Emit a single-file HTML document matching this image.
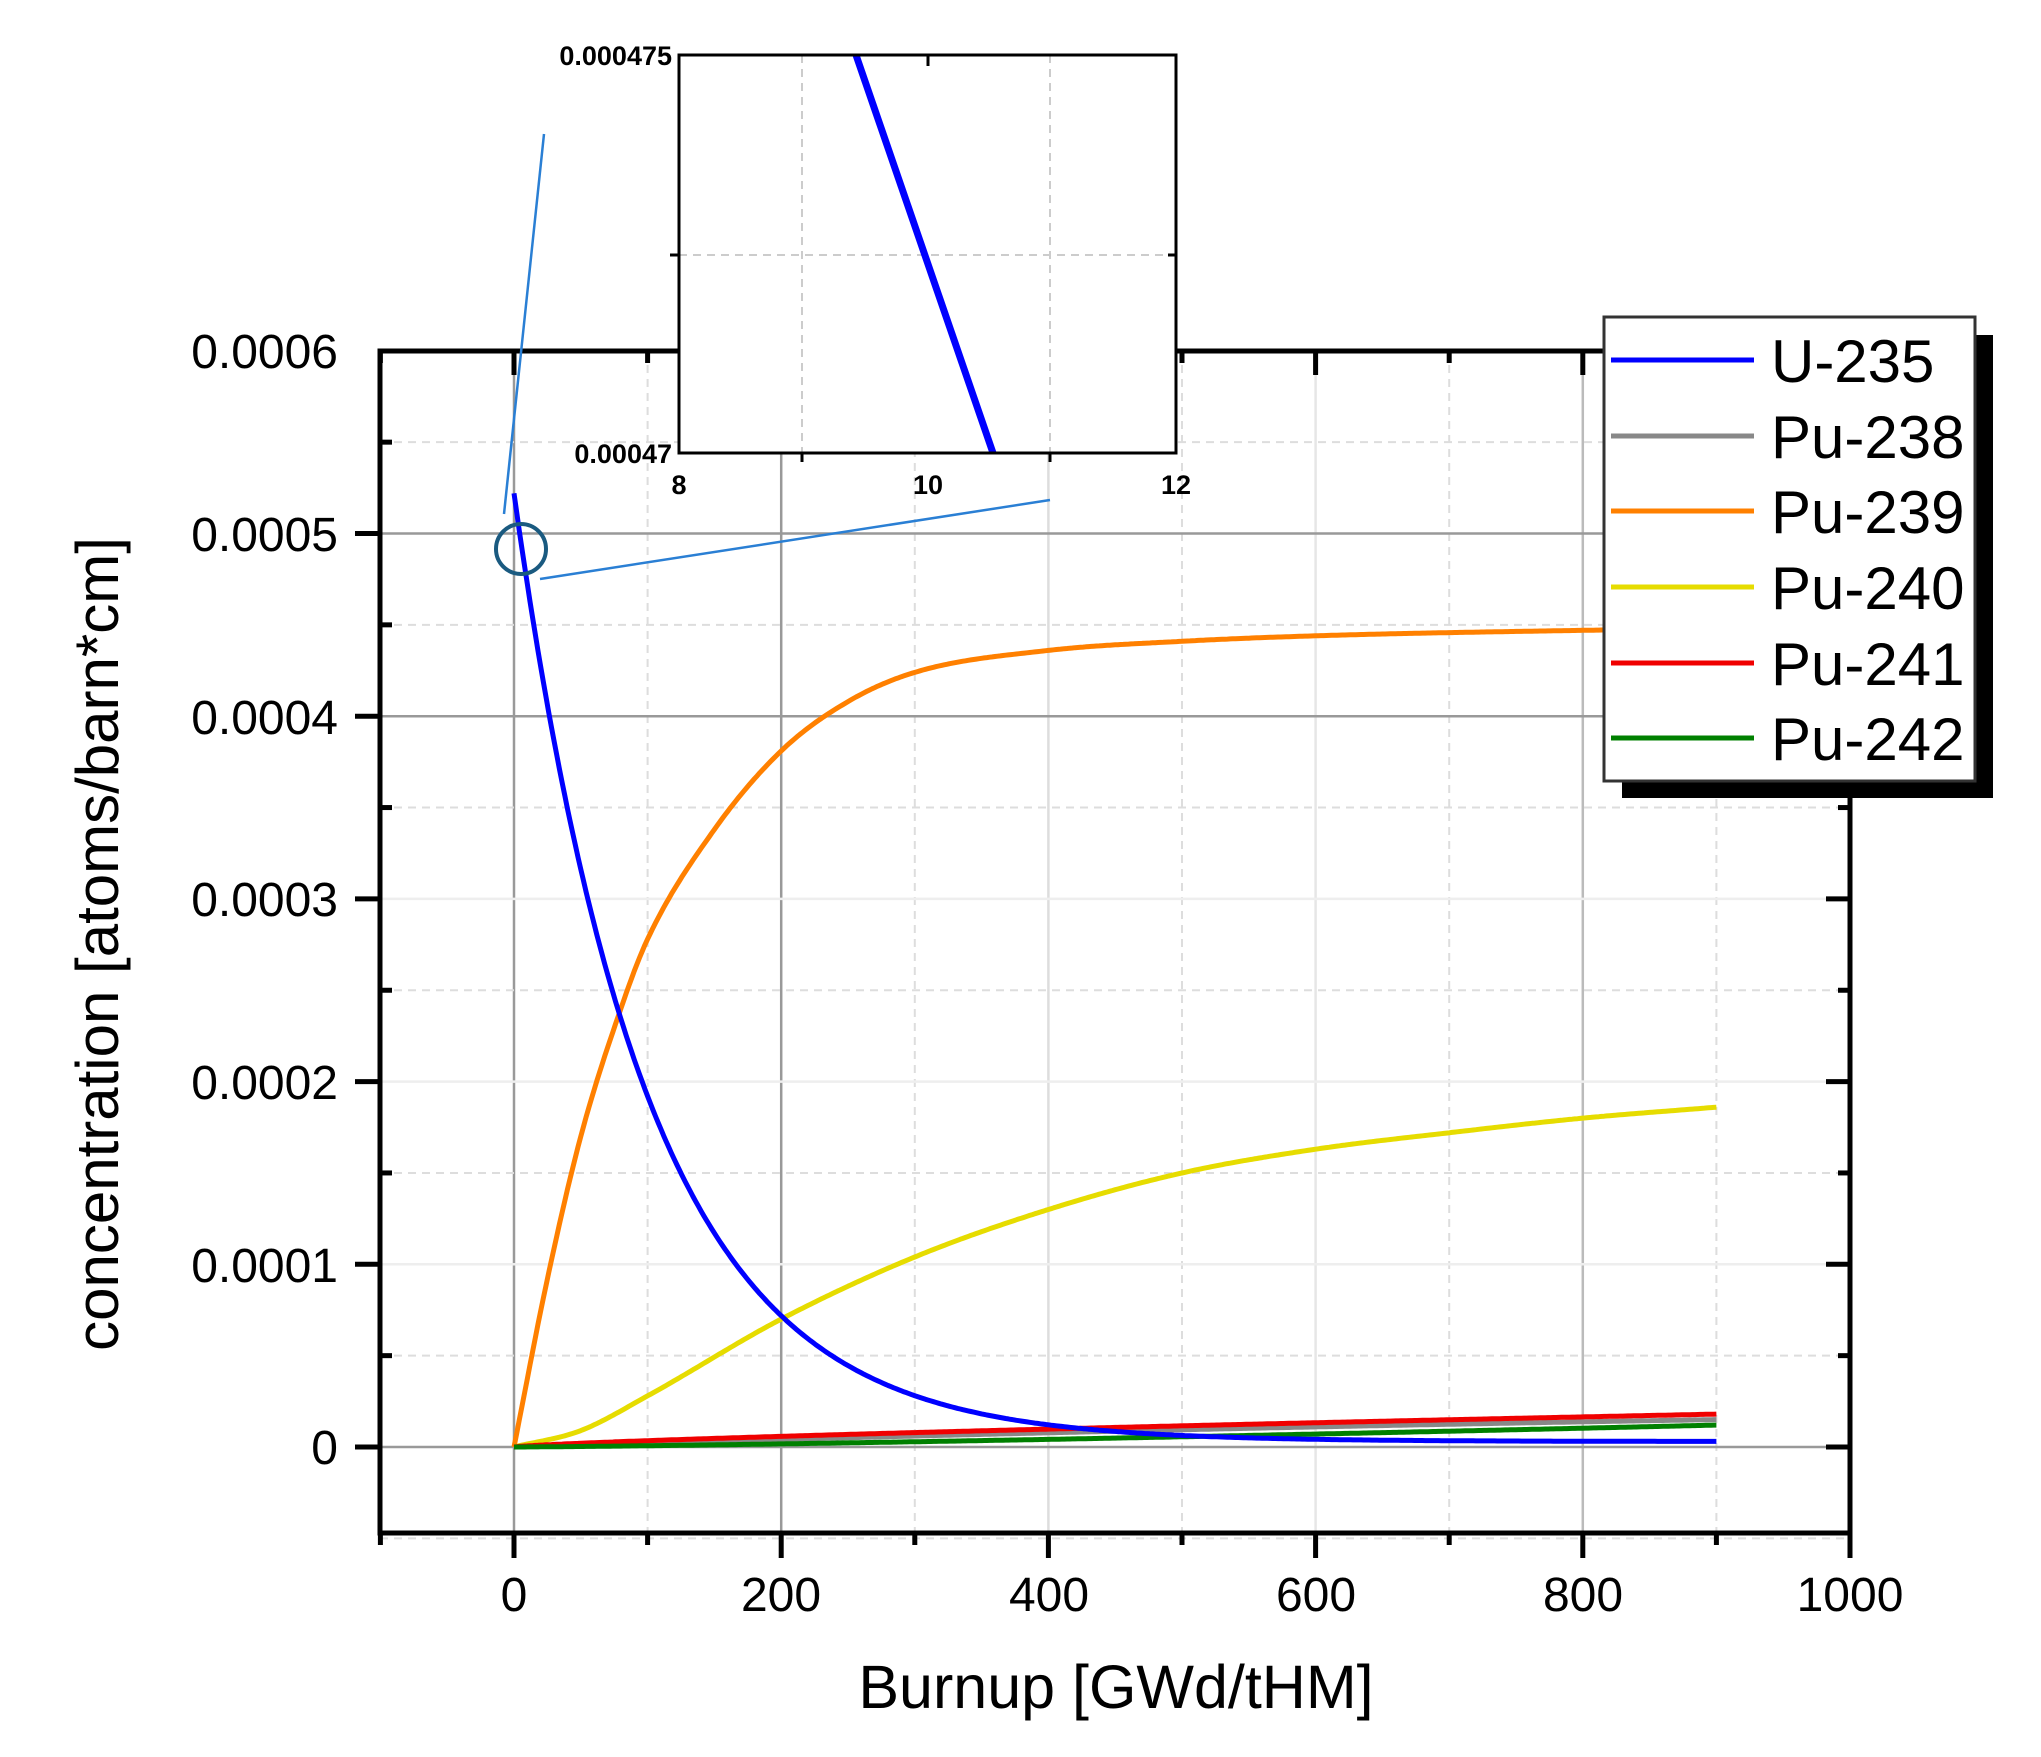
<!DOCTYPE html>
<html><head><meta charset="utf-8"><style>
html,body{margin:0;padding:0;background:#fff;}
svg{display:block;font-family:"Liberation Sans",Arial,sans-serif;}
</style></head><body>
<svg id="s" width="2041" height="1757" viewBox="0 0 2041 1757" xmlns="http://www.w3.org/2000/svg">
<rect width="2041" height="1757" fill="#fff"/>
<g id="grid"></g>
<g id="curves" fill="none" stroke-width="5" stroke-linejoin="round"></g>
<rect x="380" y="351" width="1470" height="1182" fill="none" stroke="#000" stroke-width="5"/>
<g id="ticks" stroke="#000" stroke-width="5"></g>
<g font-size="48" text-anchor="end" fill="#000">
<text x="338" y="368">0.0006</text>
<text x="338" y="551">0.0005</text>
<text x="338" y="734">0.0004</text>
<text x="338" y="916">0.0003</text>
<text x="338" y="1099">0.0002</text>
<text x="338" y="1282">0.0001</text>
<text x="338" y="1464">0</text>
</g>
<g font-size="48" text-anchor="middle" fill="#000">
<text x="514" y="1611">0</text>
<text x="781" y="1611">200</text>
<text x="1049" y="1611">400</text>
<text x="1316" y="1611">600</text>
<text x="1583" y="1611">800</text>
<text x="1850" y="1611">1000</text>
</g>
<text x="1116" y="1708" font-size="61" text-anchor="middle">Burnup [GWd/tHM]</text>
<text transform="translate(118,944) rotate(-90)" font-size="60" text-anchor="middle">concentration [atoms/barn*cm]</text>

<rect x="679" y="55" width="497" height="398" fill="#fff"/>
<g stroke="#ccc" stroke-width="2" stroke-dasharray="8,6">
<line x1="802" y1="55" x2="802" y2="453"/><line x1="1050" y1="55" x2="1050" y2="453"/>
<line x1="679" y1="255" x2="1176" y2="255"/>
</g>
<line x1="856" y1="55" x2="993" y2="453" stroke="#0000ff" stroke-width="7"/>
<rect x="679" y="55" width="497" height="398" fill="none" stroke="#000" stroke-width="3"/>
<g stroke="#000" stroke-width="3">
<line x1="928" y1="55" x2="928" y2="66"/><line x1="670" y1="255" x2="679" y2="255"/>
<line x1="802" y1="453" x2="802" y2="462"/><line x1="1050" y1="453" x2="1050" y2="462"/>
<line x1="1176" y1="255" x2="1168" y2="255"/>
</g>
<g font-size="27" font-weight="bold" fill="#000">
<text x="672" y="65" text-anchor="end">0.000475</text>
<text x="672" y="463" text-anchor="end">0.00047</text>
<text x="679" y="494" text-anchor="middle">8</text>
<text x="928" y="494" text-anchor="middle">10</text>
<text x="1176" y="494" text-anchor="middle">12</text>
</g>
<g stroke="#2a7fd4" stroke-width="2.5" fill="none">
<line x1="544" y1="134" x2="504" y2="514"/>
<line x1="540" y1="579" x2="1050" y2="500"/>
</g>
<circle cx="521" cy="549" r="25" fill="none" stroke="#1a5a80" stroke-width="4"/>

<rect x="1622" y="335" width="371" height="463" fill="#000"/>
<rect x="1604" y="317" width="371" height="464" fill="#fff" stroke="#333" stroke-width="3"/>
<g stroke-width="5">
<line x1="1611" y1="360" x2="1754" y2="360" stroke="#0000ff"/>
<line x1="1611" y1="436" x2="1754" y2="436" stroke="#888"/>
<line x1="1611" y1="511" x2="1754" y2="511" stroke="#ff8000"/>
<line x1="1611" y1="587" x2="1754" y2="587" stroke="#e6dc00"/>
<line x1="1611" y1="663" x2="1754" y2="663" stroke="#f00000"/>
<line x1="1611" y1="738" x2="1754" y2="738" stroke="#008000"/>
</g>
<g font-size="60" fill="#000">
<text x="1771" y="382">U-235</text>
<text x="1771" y="458">Pu-238</text>
<text x="1771" y="533">Pu-239</text>
<text x="1771" y="609">Pu-240</text>
<text x="1771" y="685">Pu-241</text>
<text x="1771" y="760">Pu-242</text>
</g>
</svg>
<script>
(function(){
var NS="http://www.w3.org/2000/svg";
function X(b){return 514+b*1.336;}
function Y(c){return 1447-c*1.827e6;}
function el(p,t,a){var e=document.createElementNS(NS,t);for(var k in a)e.setAttribute(k,a[k]);p.appendChild(e);return e;}
var g=document.getElementById('grid');
[[0,'#999'],[200,'#999'],[400,'#ddd'],[600,'#e6e6e6'],[800,'#bbb']].forEach(function(v){el(g,'line',{x1:X(v[0]),y1:351,x2:X(v[0]),y2:1533,stroke:v[1],'stroke-width':2.5});});
[100,300,500,700,900].forEach(function(b){el(g,'line',{x1:X(b),y1:351,x2:X(b),y2:1533,stroke:'#ddd','stroke-width':2,'stroke-dasharray':'8,6'});});
[[0,'#999'],[0.0004,'#999'],[0.0005,'#999'],[0.0003,'#eee'],[0.0002,'#eee'],[0.0001,'#eee']].forEach(function(v){el(g,'line',{x1:380,y1:Y(v[0]),x2:1850,y2:Y(v[0]),stroke:v[1],'stroke-width':2.5});});
[0.00005,0.00015,0.00025,0.00035,0.00045,0.00055,-0.00005].forEach(function(c){el(g,'line',{x1:380,y1:Y(c),x2:1850,y2:Y(c),stroke:'#ddd','stroke-width':2,'stroke-dasharray':'8,6'});});
var t=document.getElementById('ticks');
for(var b=-100;b<=1000;b+=100){var maj=(b%200===0);
 el(t,'line',{x1:X(b),y1:1533,x2:X(b),y2:maj?1558:1545});
 el(t,'line',{x1:X(b),y1:351,x2:X(b),y2:maj?375:363});}
for(var i=-1;i<=12;i++){var c=i*0.00005,y=Y(c),maj=(i%2===0);
 if(y<351||y>1533)continue;
 el(t,'line',{x1:maj?355:380,y1:y,x2:maj?380:392,y2:y});
 el(t,'line',{x1:1850,y1:y,x2:maj?1826:1838,y2:y});}
function mono(pts){
 var n=pts.length,xs=pts.map(function(p){return p[0];}),ys=pts.map(function(p){return p[1];});
 var d=[],m=[];for(var i=0;i<n-1;i++)d.push((ys[i+1]-ys[i])/(xs[i+1]-xs[i]));
 m[0]=d[0];m[n-1]=d[n-2];
 for(i=1;i<n-1;i++){m[i]=(d[i-1]*d[i]<=0)?0:(d[i-1]+d[i])/2;}
 for(i=0;i<n-1;i++){if(d[i]===0){m[i]=m[i+1]=0;continue;}var a=m[i]/d[i],bb=m[i+1]/d[i],s=a*a+bb*bb;if(s>9){var tt=3/Math.sqrt(s);m[i]=tt*a*d[i];m[i+1]=tt*bb*d[i];}}
 return function(x){for(var i=0;i<n-1;i++){if(x<=xs[i+1]){var h=xs[i+1]-xs[i],u=(x-xs[i])/h;
  var h00=2*u*u*u-3*u*u+1,h10=u*u*u-2*u*u+u,h01=-2*u*u*u+3*u*u,h11=u*u*u-u*u;
  return h00*ys[i]+h10*h*m[i]+h01*ys[i+1]+h11*h*m[i+1];}}return ys[n-1];};
}
function path(fn,color){var d='';for(var b=0;b<=900;b+=2){d+=(b?'L':'M')+X(b).toFixed(1)+','+Y(fn(b)).toFixed(1);}el(document.getElementById('curves'),'path',{d:d,stroke:color});}
var p239=mono([[0,0],[25,0.000092],[50,0.00017],[80,0.00024],[100,0.000278],[150,0.000338],[200,0.000381],[250,0.000408],[300,0.000424],[400,0.000436],[500,0.000441],[600,0.000444],[800,0.000447],[900,0.000448]]);
var p240=mono([[0,0],[50,0.000009],[100,0.000028],[200,0.00007],[300,0.000104],[400,0.00013],[500,0.00015],[600,0.000163],[700,0.000172],[800,0.00018],[900,0.000186]]);
path(function(b){return 0.000015*b/900*(1.3-0.3*b/900);},'#888');
path(p240,'#e6dc00');
path(p239,'#ff8000');
path(function(b){return 0.000018*Math.pow(b/900,0.75);},'#f00000');
path(function(b){return 0.000012*Math.pow(b/900,1.3);},'#008000');
path(function(b){return 0.000519*Math.exp(-0.0101*b)+0.000003;},'#0000ff');
})();
</script>
</body></html>
